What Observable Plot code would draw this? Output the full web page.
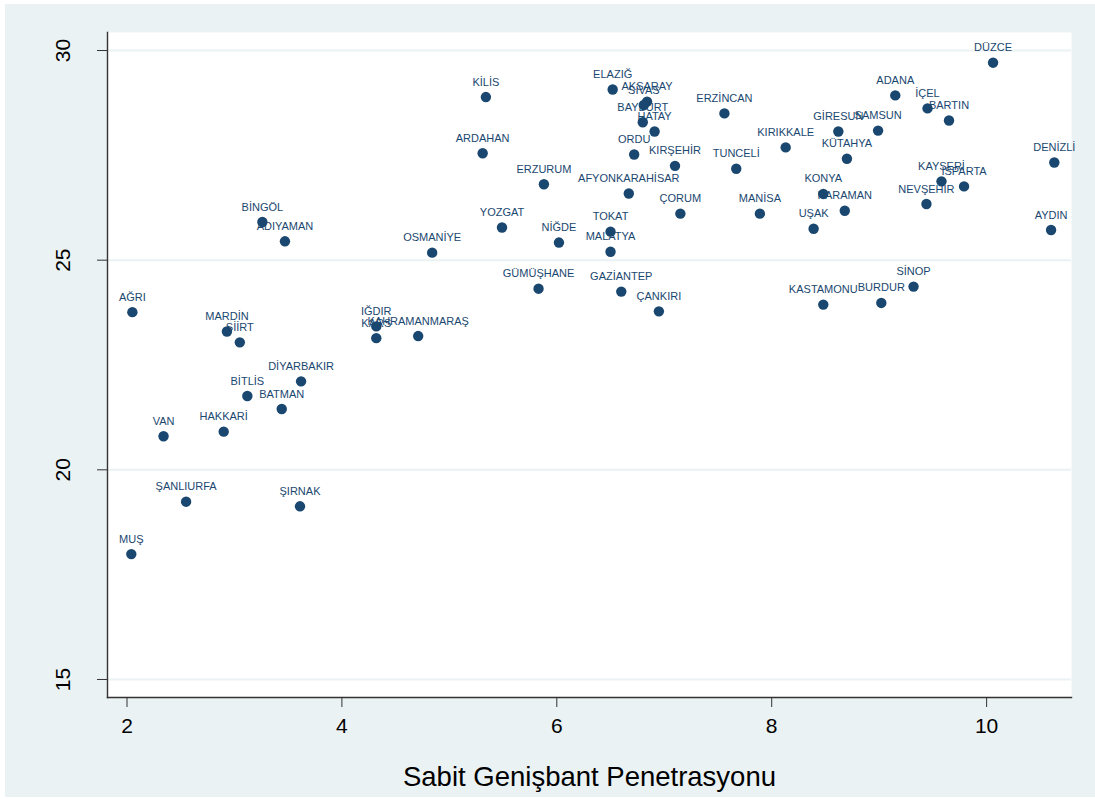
<!DOCTYPE html>
<html><head><meta charset="utf-8">
<script src="https://cdn.jsdelivr.net/npm/d3@7"></script>
<script src="https://cdn.jsdelivr.net/npm/@observablehq/plot@0.6"></script>
<style>
html,body{margin:0;padding:0;background:#fff;}
#bg{position:absolute;left:5px;top:4px;width:1090px;height:793px;background:#eaf2f3;}
#chart{position:absolute;left:0;top:0;}
#chart g[aria-label="x-axis label"]{font-size:27.5px;}
</style></head><body>
<div id="bg"></div><div id="chart"></div>
<script>
const provinces = ["DÜZCE","ADANA","İÇEL","BARTIN","GİRESUN","SAMSUN","KIRIKKALE","KÜTAHYA","DENİZLİ","KAYSERİ","ISPARTA","NEVŞEHİR","KONYA","KARAMAN","UŞAK","AYDIN","SİNOP","BURDUR","KASTAMONU","ELAZIĞ","AKSARAY","SİVAS","BAYBURT","HATAY","ORDU","KIRŞEHİR","ERZİNCAN","TUNCELİ","ERZURUM","AFYONKARAHİSAR","ÇORUM","MANİSA","YOZGAT","NİĞDE","TOKAT","MALATYA","GÜMÜŞHANE","GAZİANTEP","ÇANKIRI","KİLİS","ARDAHAN","BİNGÖL","ADIYAMAN","OSMANİYE","AĞRI","MARDİN","SİİRT","IĞDIR","KARS","KAHRAMANMARAŞ","DİYARBAKIR","BİTLİS","BATMAN","VAN","HAKKARİ","ŞANLIURFA","ŞIRNAK","MUŞ"];
const penetration = [10.06,9.15,9.45,9.65,8.62,8.99,8.13,8.70,10.63,9.58,9.79,9.44,8.48,8.68,8.39,10.60,9.32,9.02,8.48,6.52,6.84,6.81,6.80,6.91,6.72,7.10,7.56,7.67,5.88,6.67,7.15,7.89,5.49,6.02,6.50,6.50,5.83,6.60,6.95,5.34,5.31,3.26,3.47,4.84,2.05,2.93,3.05,4.32,4.32,4.71,3.62,3.12,3.44,2.34,2.90,2.55,3.61,2.04];
const values = [29.71,28.93,28.62,28.33,28.07,28.09,27.69,27.42,27.33,26.88,26.76,26.34,26.58,26.18,25.75,25.72,24.37,23.98,23.94,29.07,28.78,28.70,28.29,28.07,27.52,27.25,28.50,27.18,26.81,26.59,26.11,26.11,25.78,25.42,25.68,25.20,24.32,24.25,23.78,28.89,27.55,25.91,25.45,25.18,23.76,23.30,23.04,23.42,23.14,23.19,22.11,21.76,21.45,20.80,20.91,19.24,19.13,17.99];
const xTicks = [2,4,6,8,10];
const yTicks = [15,20,25,30];
const xDomain = [1.8185,10.79];
const yDomain = [14.57,30.43];
const xTitle = "Sabit Genişbant Penetrasyonu";

const data = provinces.map((name,i)=>({name, x: penetration[i], y: values[i]}));
const navy = "#1a476f";
const plot = Plot.plot({
  width:1095, height:799,
  marginLeft:107, marginRight:24, marginTop:32, marginBottom:102,
  style:{background:"transparent", fontFamily:"'Liberation Sans', Arial, sans-serif", color:"#000"},
  x:{domain:xDomain},
  y:{domain:yDomain},
  marks:[
    Plot.frame({fill:"white", stroke:null}),
    Plot.ruleY(yTicks, {stroke:"#eaf2f3", strokeWidth:2}),
    Plot.frame({anchor:"left", stroke:"#333", strokeWidth:1.4}),
    Plot.frame({anchor:"bottom", stroke:"#333", strokeWidth:1.4}),
    Plot.axisY(yTicks, {tickSize:10, tickRotate:-90, tickPadding:28, fontSize:21, label:null, stroke:"#333"}),
    Plot.axisX(xTicks, {tickSize:10, tickPadding:11, fontSize:21, label:xTitle, labelAnchor:"center", labelArrow:"none", labelOffset:88, stroke:"#333"}),
    Plot.text(data, {x:"x", y:"y", text:"name", dy:-15, fontSize:11, fill:navy, lineAnchor:"middle", textAnchor:"middle"}),
    Plot.dot(data, {x:"x", y:"y", r:5.2, fill:navy, stroke:null})
  ]
});
document.getElementById("chart").appendChild(plot);
</script>
</body></html>
